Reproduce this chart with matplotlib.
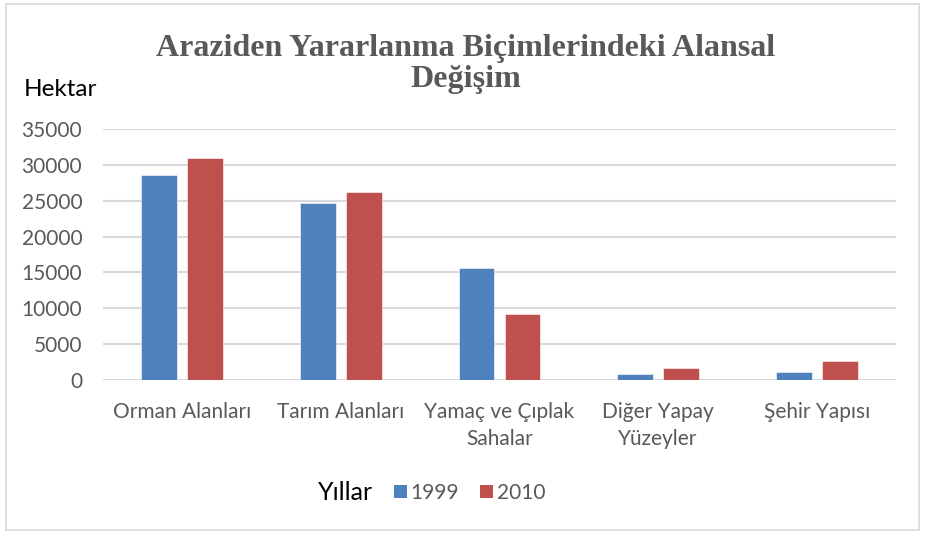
import matplotlib
matplotlib.use("Agg")
import matplotlib.pyplot as plt
import numpy as np
from matplotlib.patches import Rectangle, Patch

categories = ["Orman Alanları", "Tarım Alanları", "Yamaç ve Çıplak\nSahalar",
              "Diğer Yapay\nYüzeyler", "Şehir Yapısı"]
series_names = ["1999", "2010"]
values_1999 = [28550, 24650, 15550, 850, 1100]
values_2010 = [31000, 26250, 9200, 1700, 2700]
yticks = [0, 5000, 10000, 15000, 20000, 25000, 30000, 35000]

title = "Araziden Yararlanma Biçimlerindeki Alansal\nDeğişim"
ylabel = "Hektar"
legend_title = "Yıllar"

blue = "#4F81BD"
red = "#C0504D"
gray = "#595959"
font = ["Lato", "DejaVu Sans"]
plt.rcParams['font.family'] = font

W, H = 925, 535
fig = plt.figure(figsize=(W / 100, H / 100), dpi=100)
ax = fig.add_axes([103 / W, 1 - 380 / H, (896 - 103) / W, (380 - 129) / H])

x = np.arange(len(categories))
bw = 0.225
off = 0.145
ax.bar(x - off, values_1999, width=bw, color=blue, edgecolor="white", linewidth=0.4, zorder=3)
ax.bar(x + off, values_2010, width=bw, color=red, edgecolor="white", linewidth=0.4, zorder=3)

ax.set_xlim(-0.5, len(categories) - 0.5)
ax.set_ylim(0, 35000)
ax.set_yticks(yticks)
ax.set_yticklabels([str(v) for v in yticks], color=gray, fontsize=15)
ax.set_xticks(x)
ax.set_xticklabels(categories, color=gray, fontsize=15, linespacing=1.45)
ax.tick_params(axis='both', length=0)
ax.tick_params(axis='x', pad=15.5)
ax.tick_params(axis='y', pad=15)
ax.grid(axis='y', color="#d9d9d9", linewidth=1.5, zorder=0)
for s in ax.spines.values():
    s.set_visible(False)

fig.text(466 / W, 1 - 64 / H, title, ha='center', va='center', fontsize=23,
         fontweight='bold', color=gray, family=["Liberation Serif", "DejaVu Serif"],
         linespacing=1.1)
fig.text(24 / W, 1 - 90 / H, ylabel, ha='left', va='center', fontsize=17.5, color="black")

fig.text(318 / W, 1 - 493 / H, legend_title, ha='left', va='center', fontsize=18, color="black")
handles = [Patch(facecolor=blue), Patch(facecolor=red)]
fig.legend(handles, series_names, loc='center left', bbox_to_anchor=(394 / W, 1 - 493 / H),
           ncol=2, frameon=False, handlelength=0.6, handleheight=0.6, handletextpad=0.2,
           columnspacing=1.0, fontsize=15, labelcolor=gray, borderaxespad=0, borderpad=0)

fig.patches.append(Rectangle((6 / W, 1 - 530 / H), 913 / W, 526 / H, transform=fig.transFigure,
                             fill=False, edgecolor="#d9d9d9", linewidth=1.2))

fig.savefig("out.png", dpi=100)
